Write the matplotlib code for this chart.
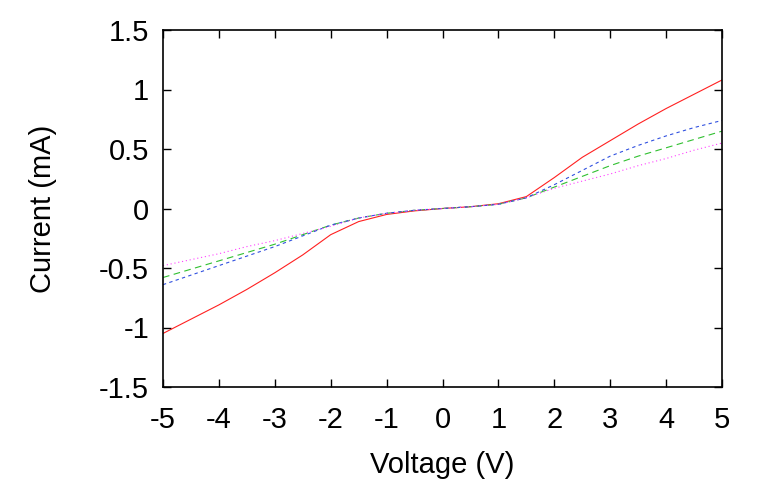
import matplotlib
matplotlib.use("Agg")
import matplotlib.pyplot as plt

plt.rcParams['font.family'] = ['Liberation Sans', 'DejaVu Sans']

voltage = [-5, -4.5, -4, -3.5, -3, -2.5, -2, -1.5, -1, -0.5, 0, 0.5, 1, 1.5, 2, 2.5, 3, 3.5, 4, 4.5, 5]
red = [-1.05, -0.93, -0.81, -0.68, -0.54, -0.39, -0.22, -0.11, -0.05, -0.02, 0.0, 0.015, 0.04, 0.10, 0.26, 0.43, 0.57, 0.71, 0.84, 0.96, 1.08]
blue = [-0.64, -0.56, -0.48, -0.40, -0.32, -0.23, -0.14, -0.08, -0.04, -0.015, 0.0, 0.015, 0.035, 0.09, 0.20, 0.32, 0.44, 0.53, 0.61, 0.68, 0.74]
green = [-0.58, -0.51, -0.44, -0.37, -0.30, -0.22, -0.14, -0.08, -0.04, -0.015, 0.0, 0.015, 0.035, 0.09, 0.18, 0.27, 0.36, 0.44, 0.51, 0.58, 0.65]
magenta = [-0.48, -0.43, -0.38, -0.32, -0.27, -0.21, -0.15, -0.08, -0.04, -0.015, 0.0, 0.015, 0.035, 0.09, 0.17, 0.23, 0.29, 0.36, 0.42, 0.49, 0.55]

xticks = [-5, -4, -3, -2, -1, 0, 1, 2, 3, 4, 5]
yticks = [-1.5, -1, -0.5, 0, 0.5, 1, 1.5]
ytick_labels = ['-1.5', '-1', '-0.5', '0', '0.5', '1', '1.5']

fig = plt.figure(figsize=(7.59, 4.99), dpi=100)
ax = fig.add_axes([163/759, 1-387/499, (722-163)/759, (387-30)/499])

ax.plot(voltage, red, color='#ff2020', lw=0.8, ls='-')
ax.plot(voltage, green, color='#30c030', lw=0.8, ls=(0, (6, 4)))
ax.plot(voltage, blue, color='#3050e0', lw=0.8, ls=(0, (3, 3)))
ax.plot(voltage, magenta, color='#ff40ff', lw=0.8, ls=(0, (1, 2.5)))

ax.set_xlim(-5, 5)
ax.set_ylim(-1.5, 1.5)
ax.set_xticks(xticks)
ax.set_xticklabels([str(t) for t in xticks])
ax.set_yticks(yticks)
ax.set_yticklabels(ytick_labels)
ax.tick_params(direction='in', top=True, right=True, length=6, width=1, labelsize=21)
ax.tick_params(axis='y', pad=10)
ax.tick_params(axis='x', pad=14)
for s in ax.spines.values():
    s.set_linewidth(1.2)
ax.set_xlabel('Voltage (V)', fontsize=21, labelpad=12)
ax.set_ylabel('Current (mA)', fontsize=21, labelpad=30)

fig.savefig('out.png', dpi=100)
